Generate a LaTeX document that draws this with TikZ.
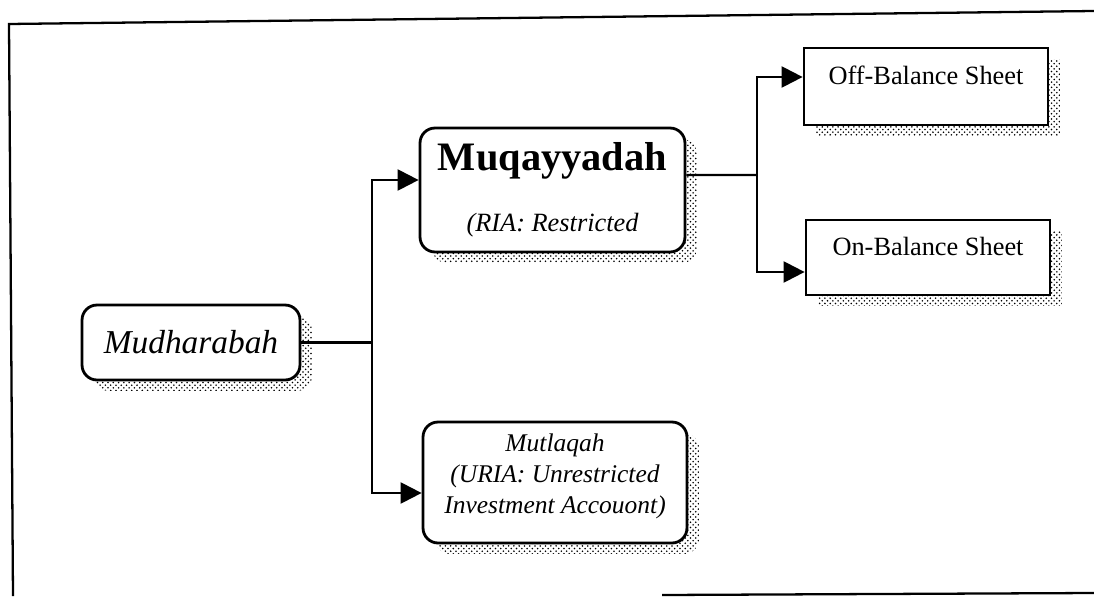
\documentclass[tikz,border=0pt]{standalone}
\usepackage{fontspec}
\setmainfont{Liberation Serif}
\usetikzlibrary{positioning,arrows.meta,shadows,patterns}

\begin{document}
\begin{tikzpicture}[x=0.02cm,y=0.02cm,
  arr/.style={-{Triangle[length=0.42cm,width=0.42cm]},line width=1.25pt},
  conn/.style={line width=1.25pt},
  boxshadow/.style={drop shadow={shadow xshift=0.24cm,shadow yshift=-0.22cm,opacity=1,fill=none,pattern=crosshatch dots,pattern color=black}},
  rbox/.style={draw,line width=1.6pt,fill=white,rounded corners=0.3cm,boxshadow,align=center,inner sep=2pt},
  sbox/.style={draw,line width=1.6pt,fill=white,boxshadow,minimum width=4.88cm,text depth=0.45cm,font=\fontsize{15}{18}\selectfont}]
\useasboundingbox (0,0) rectangle (1094,596);
% frame
\draw[line width=1.3pt] (13,0) -- (9,572) -- (1094,585);
\draw[line width=1.3pt] (662,1) -- (1094,3);
% boxes
\node[rbox,minimum width=4.36cm,minimum height=1.5cm,font=\itshape\fontsize{19}{22}\selectfont] (mud) at (191,253.5) {Mudharabah};
\node[rbox,minimum width=5.3cm,minimum height=2.48cm,font=\fontsize{15}{18}\selectfont] (muq) at (552.5,406)
  {{\bfseries\fontsize{23}{26}\selectfont Muqayyadah}\\[17pt]{\itshape (RIA: Restricted}};
\node[rbox,minimum width=5.28cm,minimum height=2.42cm,text depth=0.35cm,font=\itshape\fontsize{14.5}{17.5}\selectfont] (mut) at (555,113.5)
  {Mutlaqah\\(URIA: Unrestricted\\Investment Accouont)};
\node[sbox,minimum height=1.54cm] (off) at (926,509.5) {Off-Balance Sheet};
\node[sbox,minimum height=1.5cm] (on) at (928,338.5) {On-Balance Sheet};
% connectors
\coordinate (b1) at (372,253.5);
\coordinate (b2) at (757,421);
\draw[conn] (mud.east) -- (b1);
\draw[arr] (b1) |- ([yshift=0.2cm]muq.west);
\draw[arr] (b1) |- ([yshift=-0.21cm]mut.west);
\draw[conn] ([yshift=0.3cm]muq.east) -- (b2);
\draw[arr] (b2) |- ([yshift=0.19cm]off.west);
\draw[arr] (b2) |- ([yshift=-0.29cm]on.west);
\end{tikzpicture}
\end{document}
